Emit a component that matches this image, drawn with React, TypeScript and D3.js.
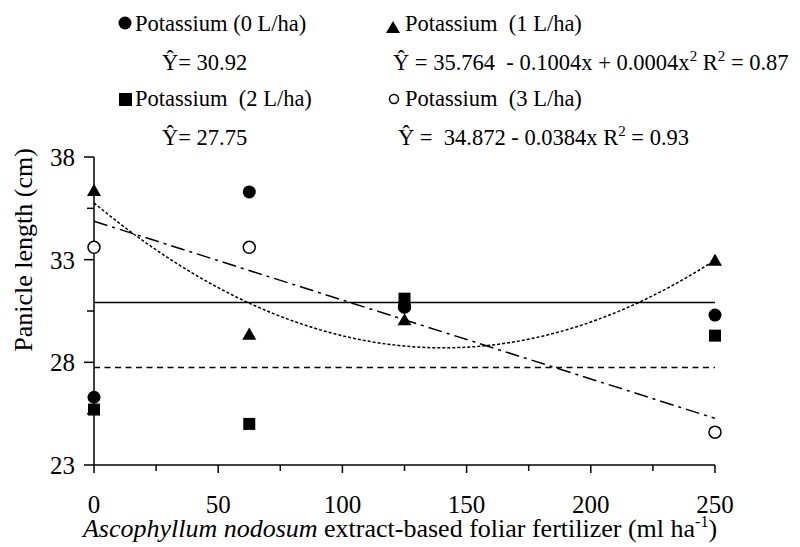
import { useEffect, useRef } from 'react';
import * as d3 from 'd3';

// doses of the foliar fertilizer (ml/ha)
const doses = [0, 62.5, 125, 250];

// panicle length (cm) per potassium level
const k0 = [26.3, 36.3, 30.7, 30.3];
const k1 = [36.3, 29.3, 30.0, 32.9];
const k2 = [25.7, 25.0, 31.1, 29.3];
const k3 = [33.6, 33.6, 30.7, 24.6];

// fitted models
const meanK0 = 30.92;
const meanK2 = 27.75;
const quadK1 = [35.764, -0.1004, 0.000357];
const linK3 = [34.872, -0.0384];

const xTicks = [0, 50, 100, 150, 200, 250];
const xMinor = [25, 75, 125, 175, 225];
const yTicks = [23, 28, 33, 38];
const yMinor = [25.5, 30.5, 35.5];

const FONT = 'Liberation Serif';
const SP = '\u00a0';

const App = () => {
	const ref = useRef(null);

	useEffect(() => {
		const svg = d3.select(ref.current);
		svg.selectAll('*').remove();

		const x = d3.scaleLinear().domain([0, 250]).range([94, 715]);
		const y = d3.scaleLinear().domain([23, 38]).range([465, 157]);

		const txt = (px, py, size) =>
			svg.append('text').attr('x', px).attr('y', py)
				.attr('font-family', FONT).attr('font-size', size);

		// axes lines
		svg.append('line').attr('x1', x(0)).attr('x2', x(0)).attr('y1', y(38)).attr('y2', y(23))
			.attr('stroke', '#000').attr('stroke-width', 1.5);
		svg.append('line').attr('x1', x(0)).attr('x2', x(250)).attr('y1', y(23)).attr('y2', y(23))
			.attr('stroke', '#000').attr('stroke-width', 1.5);

		// y ticks
		svg.selectAll('.ytick').data(yTicks).join('line').attr('class', 'ytick')
			.attr('x1', x(0) - 10).attr('x2', x(0)).attr('y1', (d) => y(d)).attr('y2', (d) => y(d))
			.attr('stroke', '#000').attr('stroke-width', 1.5);
		svg.selectAll('.yminor').data(yMinor).join('line').attr('class', 'yminor')
			.attr('x1', x(0) - 7).attr('x2', x(0)).attr('y1', (d) => y(d)).attr('y2', (d) => y(d))
			.attr('stroke', '#000').attr('stroke-width', 1.5);
		yTicks.forEach((d) => txt(75, y(d) + 9, 25).attr('text-anchor', 'end').text(d));

		// x ticks
		svg.selectAll('.xtick').data(xTicks).join('line').attr('class', 'xtick')
			.attr('x1', (d) => x(d)).attr('x2', (d) => x(d)).attr('y1', y(23)).attr('y2', y(23) + 8)
			.attr('stroke', '#000').attr('stroke-width', 1.5);
		svg.selectAll('.xminor').data(xMinor).join('line').attr('class', 'xminor')
			.attr('x1', (d) => x(d)).attr('x2', (d) => x(d)).attr('y1', y(23)).attr('y2', y(23) + 6)
			.attr('stroke', '#000').attr('stroke-width', 1.5);
		xTicks.forEach((d) => txt(x(d), 513, 25).attr('text-anchor', 'middle').text(d));

		// axis titles
		txt(0, 0, 26)
			.attr('transform', 'translate(32, 250) rotate(-90)')
			.attr('text-anchor', 'middle')
			.text('Panicle length (cm)');

		const xt = txt(400, 537, 26).attr('text-anchor', 'middle');
		xt.append('tspan').attr('font-style', 'italic').text('Ascophyllum nodosum');
		xt.append('tspan').text(' extract-based foliar fertilizer (ml ha');
		xt.append('tspan').attr('dy', -10).attr('font-size', 16).text('-1');
		xt.append('tspan').attr('dy', 10).text(')');

		// fitted lines
		svg.append('line').attr('x1', x(0)).attr('x2', x(250)).attr('y1', y(meanK0)).attr('y2', y(meanK0))
			.attr('stroke', '#000').attr('stroke-width', 1.5);
		svg.append('line').attr('x1', x(0)).attr('x2', x(250)).attr('y1', y(meanK2)).attr('y2', y(meanK2))
			.attr('stroke', '#000').attr('stroke-width', 1.5).attr('stroke-dasharray', '6,4.5');

		const xs = d3.range(0, 251, 2);
		const line = d3.line().x((d) => x(d[0])).y((d) => y(d[1]));
		svg.append('path')
			.attr('d', line(xs.map((v) => [v, quadK1[0] + quadK1[1] * v + quadK1[2] * v * v])))
			.attr('fill', 'none').attr('stroke', '#000').attr('stroke-width', 1.5)
			.attr('stroke-dasharray', '3,2');
		svg.append('path')
			.attr('d', line([0, 250].map((v) => [v, linK3[0] + linK3[1] * v])))
			.attr('fill', 'none').attr('stroke', '#000').attr('stroke-width', 1.5)
			.attr('stroke-dasharray', '14,5,3,5');

		// markers
		const tri = d3.symbol().type(d3.symbolTriangle).size(85);
		const sq = d3.symbol().type(d3.symbolSquare).size(144);

		svg.selectAll('.k3').data(doses).join('circle').attr('class', 'k3')
			.attr('cx', (d) => x(d)).attr('cy', (d, i) => y(k3[i])).attr('r', 6)
			.attr('fill', '#fff').attr('stroke', '#000').attr('stroke-width', 1.5);
		svg.selectAll('.k0').data(doses).join('circle').attr('class', 'k0')
			.attr('cx', (d) => x(d)).attr('cy', (d, i) => y(k0[i])).attr('r', 6.5);
		svg.selectAll('.k1').data(doses).join('path').attr('class', 'k1')
			.attr('d', tri).attr('transform', (d, i) => `translate(${x(d)},${y(k1[i])})`);
		svg.selectAll('.k2').data(doses).join('path').attr('class', 'k2')
			.attr('d', sq).attr('transform', (d, i) => `translate(${x(d)},${y(k2[i])})`);

		// legend
		const LS = 22.5;
		svg.append('circle').attr('cx', 125).attr('cy', 23).attr('r', 6.5);
		txt(135, 31, LS).text('Potassium (0 L/ha)');
		svg.append('path').attr('d', tri).attr('transform', 'translate(393,29)');
		txt(405, 31, LS).text(`Potassium${SP} (1 L/ha)`);
		txt(162, 70, LS).text('Ŷ= 30.92');

		const e1 = txt(393, 70, LS);
		e1.append('tspan').text(`Ŷ = 35.764${SP} - 0.1004x + 0.0004x`);
		e1.append('tspan').attr('dy', -9).attr('font-size', 15).text('2');
		e1.append('tspan').attr('dy', 9).text(' R');
		e1.append('tspan').attr('dy', -9).attr('font-size', 15).text('2');
		e1.append('tspan').attr('dy', 9).text(' = 0.87');

		svg.append('rect').attr('x', 119).attr('y', 93).attr('width', 13).attr('height', 13);
		txt(135, 106, LS).text(`Potassium${SP} (2 L/ha)`);
		svg.append('circle').attr('cx', 394).attr('cy', 99).attr('r', 4.5)
			.attr('fill', '#fff').attr('stroke', '#000').attr('stroke-width', 1.5);
		txt(405, 106, LS).text(`Potassium${SP} (3 L/ha)`);
		txt(162, 145, LS).text('Ŷ= 27.75');

		const e2 = txt(398, 145, LS);
		e2.append('tspan').text(`Ŷ =${SP} 34.872 - 0.0384x R`);
		e2.append('tspan').attr('dy', -9).attr('font-size', 15).text('2');
		e2.append('tspan').attr('dy', 9).text(' = 0.93');
	}, []);

	return (
		<div style={{ margin: '-8px 0 0 -8px' }}>
			<svg ref={ref} width={800} height={547}></svg>
		</div>
	);
};

export default App;
